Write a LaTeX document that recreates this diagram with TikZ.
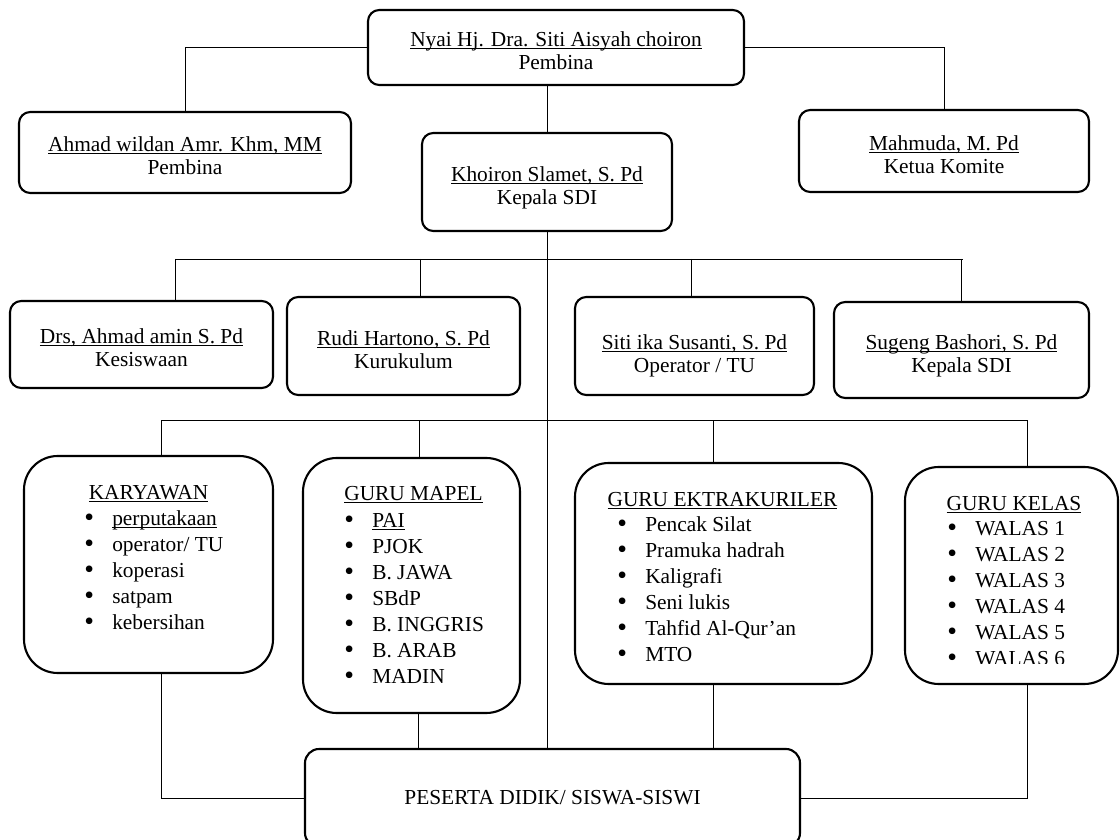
\documentclass[tikz,border=0pt]{standalone}
\usepackage{fontspec}
\setmainfont{Liberation Serif}

\newcommand{\nama}[1]{\underline{\vphantom{A}\smash{#1}}}
\newcommand{\butir}[1]{\makebox[0.7cm][l]{\raisebox{-0.06em}{\scalebox{1.3}{\textbullet}}}#1}
\newcommand{\isidaftar}[1]{\begin{tabular}[t]{@{}l@{}}#1\end{tabular}}

\tikzset{
	jabatan/.style={draw, line width=1.5pt, rounded corners=8pt, align=center, inner sep=0pt, text height=31.5pt, text depth=0pt, font=\fontsize{15.2}{16.3}\selectfont},
	siswa/.style={draw, line width=1.5pt, rounded corners=10pt, inner sep=0pt, font=\fontsize{15.2}{16.3}\selectfont},
	bagian/.style={draw, line width=1.5pt, rounded corners=24pt, inner sep=0pt},
	judul/.style={inner sep=0pt, anchor=base, font=\fontsize{15.2}{16.3}\selectfont},
	daftar/.style={inner sep=0pt, anchor=base west, font=\fontsize{15.2}{18.57}\selectfont},
	garis/.style={line width=0.7pt},
	ukuran/.style 2 args={minimum width=#1*0.025cm, minimum height=#2*0.025cm}
}

\begin{document}
\begin{tikzpicture}[x=0.025cm, y=-0.025cm]
	\useasboundingbox (0,0) rectangle (1120,840);

	% pembina dan kepala
	\node[jabatan, ukuran={376}{75}] (nyai) at (556,47.5) {\nama{Nyai Hj. Dra. Siti Aisyah choiron}\\Pembina};
	\node[jabatan, ukuran={332}{81}] (ahmad) at (185,152.5) {\nama{Ahmad wildan Amr. Khm, MM}\\Pembina};
	\node[jabatan, ukuran={290}{82}] (mahmuda) at (944,151) {\nama{Mahmuda, M. Pd}\\Ketua Komite};
	\node[jabatan, ukuran={250}{98}] (khoiron) at (547,182) {\nama{Khoiron Slamet, S. Pd}\\Kepala SDI};

	% wakil
	\node[jabatan, ukuran={263}{87}] (drs) at (141.5,344.5) {\nama{Drs, Ahmad amin S. Pd}\\Kesiswaan};
	\node[jabatan, ukuran={233}{98}] (rudi) at (403.5,346) {\nama{Rudi Hartono, S. Pd}\\Kurukulum};
	\node[jabatan, text height=38pt, ukuran={239}{98}] (siti) at (694.5,346) {\nama{Siti ika Susanti, S. Pd}\\Operator / TU};
	\node[jabatan, ukuran={255}{96}] (sugeng) at (961.5,350) {\nama{Sugeng Bashori, S. Pd}\\Kepala SDI};

	% bagian bawah
	\node[bagian, ukuran={249}{217}] (karyawan) at (148.5,564.5) {};
	\node[bagian, ukuran={217}{255}] (mapel) at (411.5,585.5) {};
	\node[bagian, ukuran={297}{221}] (ekstra) at (723.5,573.5) {};
	\node[bagian, ukuran={213}{217}] (kelas) at (1011.5,575.5) {};
	\node[siswa, ukuran={495}{98}] (peserta) at (552.5,798) {PESERTA DIDIK/ SISWA-SISWI};

	\node[judul] (karyawan-judul) at (148.5,499) {\nama{KARYAWAN}};
	\node[judul] (mapel-judul) at (413.5,500) {\nama{GURU MAPEL}};
	\node[judul] (ekstra-judul) at (722.5,506) {\nama{GURU EKTRAKURILER}};
	\node[judul] (kelas-judul) at (1014,510) {\nama{GURU KELAS}};

	\node[daftar] (karyawan-isi) at (84,525) {\isidaftar{\butir{\nama{perputakaan}}\\\butir{operator/ TU}\\\butir{koperasi}\\\butir{satpam}\\\butir{kebersihan}}};
	\node[daftar] (mapel-isi) at (344,527) {\isidaftar{\butir{\nama{PAI}}\\\butir{PJOK}\\\butir{B. JAWA}\\\butir{SBdP}\\\butir{B. INGGRIS}\\\butir{B. ARAB}\\\butir{MADIN}}};
	\node[daftar] (ekstra-isi) at (617,531) {\isidaftar{\butir{Pencak Silat}\\\butir{Pramuka hadrah}\\\butir{Kaligrafi}\\\butir{Seni lukis}\\\butir{Tahfid Al-Qur’an}\\\butir{MTO}}};
	\begin{scope}
		\clip (905,440) rectangle (1118,663);
		\node[daftar] (kelas-isi) at (947,535) {\isidaftar{\butir{WALAS 1}\\\butir{WALAS 2}\\\butir{WALAS 3}\\\butir{WALAS 4}\\\butir{WALAS 5}\\\butir{WALAS 6}}};
	\end{scope}

	% garis
	\draw[garis] (nyai.west) -| (ahmad.north);
	\draw[garis] (nyai.east) -| (mahmuda.north);
	\draw[garis] (khoiron.north |- nyai.south) -- (khoiron.north);
	\draw[garis] (khoiron.south) -- (khoiron.south |- peserta.north);

	\coordinate (cabang1) at (175,259);
	\coordinate (cabang2) at (963,259);
	\draw[garis] (cabang1) -- (cabang2);
	\foreach \n/\x in {drs/175, rudi/420, siti/691, sugeng/961}
		\draw[garis] (\x,259) -- (\n.north -| \x,0);

	\coordinate (cabang3) at (161,420);
	\coordinate (cabang4) at (1027,420);
	\draw[garis] (cabang3) -- (cabang4);
	\foreach \n/\x in {karyawan/161, mapel/419, ekstra/713, kelas/1027}
		\draw[garis] (\x,420) -- (\n.north -| \x,0);

	\draw[garis] (karyawan.south -| cabang3) |- (peserta.west);
	\draw[garis] (mapel.south -| 418,0) -- (peserta.north -| 418,0);
	\draw[garis] (ekstra.south -| 713,0) -- (peserta.north -| 713,0);
	\draw[garis] (kelas.south -| cabang4) |- (peserta.east);
\end{tikzpicture}
\end{document}
